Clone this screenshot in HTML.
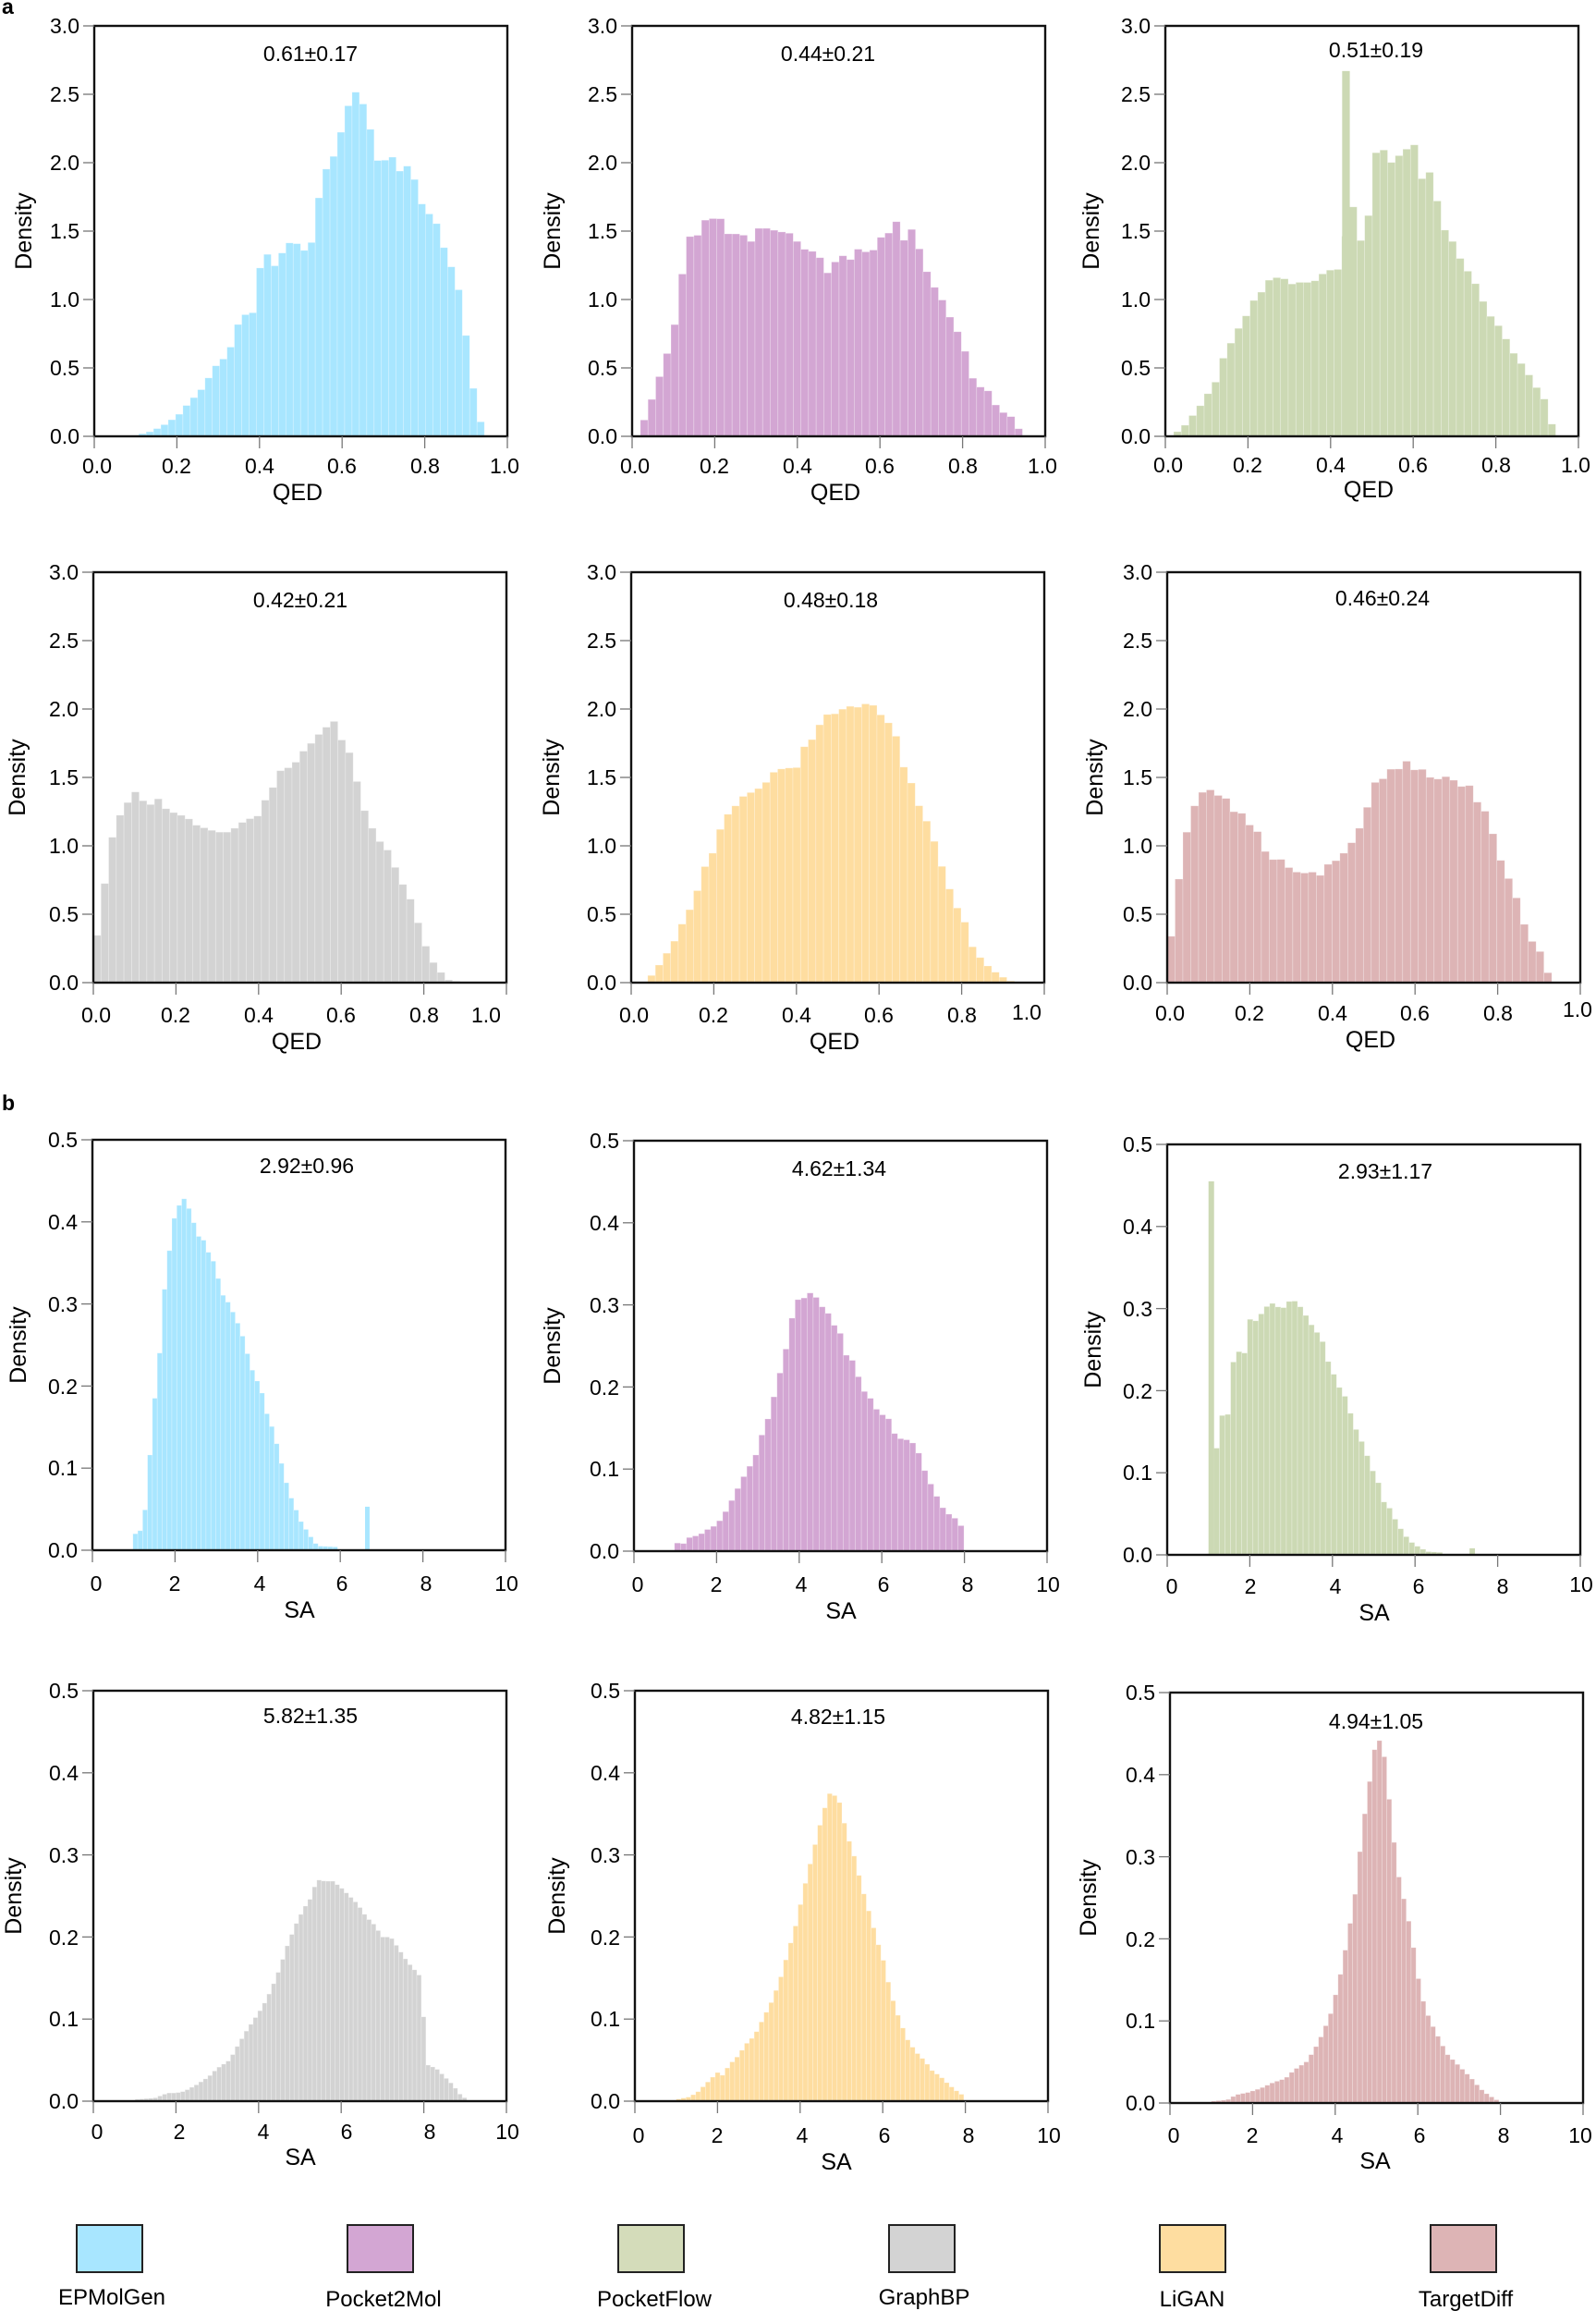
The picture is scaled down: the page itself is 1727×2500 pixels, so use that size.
<!DOCTYPE html>
<html><head><meta charset="utf-8"><style>
html,body{margin:0;padding:0;background:#fff}
svg{display:block}
text{font-family:"Liberation Sans",Arial,sans-serif;fill:#000}
.yl{font-size:23px;text-anchor:end}
.xl{font-size:23px;text-anchor:middle}
.ti{font-size:25px;text-anchor:middle}
.st{font-size:23px;text-anchor:middle}
.lg{font-size:24px;text-anchor:middle}
</style></head><body>
<svg id="s" width="1727" height="2500" viewBox="0 0 1727 2500" xmlns="http://www.w3.org/2000/svg">
<text x="2" y="15" style="font-size:23px;font-weight:bold">a</text>
<text x="2" y="1201" style="font-size:23px;font-weight:bold">b</text>
<g id="bars"></g>

<!-- QED row 1 -->
<g transform="translate(102,28)">
<text class="st" x="234" y="38">0.61±0.17</text>
<text class="yl" x="-16" y="8">3.0</text><text class="yl" x="-16" y="82">2.5</text><text class="yl" x="-16" y="156">2.0</text><text class="yl" x="-16" y="230">1.5</text><text class="yl" x="-16" y="304">1.0</text><text class="yl" x="-16" y="378">0.5</text><text class="yl" x="-16" y="452">0.0</text>
<text class="xl" x="3" y="484">0.0</text><text class="xl" x="89" y="484">0.2</text><text class="xl" x="179" y="484">0.4</text><text class="xl" x="268" y="484">0.6</text><text class="xl" x="358" y="484">0.8</text><text class="xl" x="444" y="484">1.0</text>
<text class="ti" x="220" y="513">QED</text>
<text class="ti" transform="translate(-68,222) rotate(-90)">Density</text>
</g>
<g transform="translate(684,28)">
<text class="st" x="212" y="38">0.44±0.21</text>
<text class="yl" x="-16" y="8">3.0</text><text class="yl" x="-16" y="82">2.5</text><text class="yl" x="-16" y="156">2.0</text><text class="yl" x="-16" y="230">1.5</text><text class="yl" x="-16" y="304">1.0</text><text class="yl" x="-16" y="378">0.5</text><text class="yl" x="-16" y="452">0.0</text>
<text class="xl" x="3" y="484">0.0</text><text class="xl" x="89" y="484">0.2</text><text class="xl" x="179" y="484">0.4</text><text class="xl" x="268" y="484">0.6</text><text class="xl" x="358" y="484">0.8</text><text class="xl" x="444" y="484">1.0</text>
<text class="ti" x="220" y="513">QED</text>
<text class="ti" transform="translate(-78,222) rotate(-90)">Density</text>
</g>
<g transform="translate(1261,28)">
<text class="st" x="228" y="34">0.51±0.19</text>
<text class="yl" x="-16" y="8">3.0</text><text class="yl" x="-16" y="82">2.5</text><text class="yl" x="-16" y="156">2.0</text><text class="yl" x="-16" y="230">1.5</text><text class="yl" x="-16" y="304">1.0</text><text class="yl" x="-16" y="378">0.5</text><text class="yl" x="-16" y="452">0.0</text>
<text class="xl" x="3" y="483">0.0</text><text class="xl" x="89" y="483">0.2</text><text class="xl" x="179" y="483">0.4</text><text class="xl" x="268" y="483">0.6</text><text class="xl" x="358" y="483">0.8</text><text class="xl" x="444" y="483">1.0</text>
<text class="ti" x="220" y="510">QED</text>
<text class="ti" transform="translate(-72,222) rotate(-90)">Density</text>
</g>

<!-- QED row 2 -->
<g transform="translate(101,619)">
<text class="st" x="224" y="38">0.42±0.21</text>
<text class="yl" x="-16" y="8">3.0</text><text class="yl" x="-16" y="82">2.5</text><text class="yl" x="-16" y="156">2.0</text><text class="yl" x="-16" y="230">1.5</text><text class="yl" x="-16" y="304">1.0</text><text class="yl" x="-16" y="378">0.5</text><text class="yl" x="-16" y="452">0.0</text>
<text class="xl" x="3" y="487">0.0</text><text class="xl" x="89" y="487">0.2</text><text class="xl" x="179" y="487">0.4</text><text class="xl" x="268" y="487">0.6</text><text class="xl" x="358" y="487">0.8</text><text class="xl" x="425" y="487">1.0</text>
<text class="ti" x="220" y="516">QED</text>
<text class="ti" transform="translate(-74,222) rotate(-90)">Density</text>
</g>
<g transform="translate(683,619)">
<text class="st" x="216" y="38">0.48±0.18</text>
<text class="yl" x="-16" y="8">3.0</text><text class="yl" x="-16" y="82">2.5</text><text class="yl" x="-16" y="156">2.0</text><text class="yl" x="-16" y="230">1.5</text><text class="yl" x="-16" y="304">1.0</text><text class="yl" x="-16" y="378">0.5</text><text class="yl" x="-16" y="452">0.0</text>
<text class="xl" x="3" y="487">0.0</text><text class="xl" x="89" y="487">0.2</text><text class="xl" x="179" y="487">0.4</text><text class="xl" x="268" y="487">0.6</text><text class="xl" x="358" y="487">0.8</text><text class="xl" x="428" y="484">1.0</text>
<text class="ti" x="220" y="516">QED</text>
<text class="ti" transform="translate(-78,222) rotate(-90)">Density</text>
</g>
<g transform="translate(1263,619)">
<text class="st" x="233" y="36">0.46±0.24</text>
<text class="yl" x="-16" y="8">3.0</text><text class="yl" x="-16" y="82">2.5</text><text class="yl" x="-16" y="156">2.0</text><text class="yl" x="-16" y="230">1.5</text><text class="yl" x="-16" y="304">1.0</text><text class="yl" x="-16" y="378">0.5</text><text class="yl" x="-16" y="452">0.0</text>
<text class="xl" x="3" y="485">0.0</text><text class="xl" x="89" y="485">0.2</text><text class="xl" x="179" y="485">0.4</text><text class="xl" x="268" y="485">0.6</text><text class="xl" x="358" y="485">0.8</text><text class="xl" x="444" y="481">1.0</text>
<text class="ti" x="220" y="514">QED</text>
<text class="ti" transform="translate(-70,222) rotate(-90)">Density</text>
</g>

<!-- SA row 1 -->
<g transform="translate(100,1233)">
<text class="st" x="232" y="36">2.92±0.96</text>
<text class="yl" x="-16" y="8">0.5</text><text class="yl" x="-16" y="97">0.4</text><text class="yl" x="-16" y="186">0.3</text><text class="yl" x="-16" y="275">0.2</text><text class="yl" x="-16" y="363">0.1</text><text class="yl" x="-16" y="452">0.0</text>
<text class="xl" x="4" y="488">0</text><text class="xl" x="89" y="488">2</text><text class="xl" x="181" y="488">4</text><text class="xl" x="270" y="488">6</text><text class="xl" x="361" y="488">8</text><text class="xl" x="448" y="488">10</text>
<text class="ti" x="224" y="517">SA</text>
<text class="ti" transform="translate(-72,222) rotate(-90)">Density</text>
</g>
<g transform="translate(686,1234)">
<text class="st" x="222" y="38">4.62±1.34</text>
<text class="yl" x="-16" y="8">0.5</text><text class="yl" x="-16" y="97">0.4</text><text class="yl" x="-16" y="186">0.3</text><text class="yl" x="-16" y="275">0.2</text><text class="yl" x="-16" y="363">0.1</text><text class="yl" x="-16" y="452">0.0</text>
<text class="xl" x="4" y="488">0</text><text class="xl" x="89" y="488">2</text><text class="xl" x="181" y="488">4</text><text class="xl" x="270" y="488">6</text><text class="xl" x="361" y="488">8</text><text class="xl" x="448" y="488">10</text>
<text class="ti" x="224" y="517">SA</text>
<text class="ti" transform="translate(-80,222) rotate(-90)">Density</text>
</g>
<g transform="translate(1263,1238)">
<text class="st" x="236" y="37">2.93±1.17</text>
<text class="yl" x="-16" y="8">0.5</text><text class="yl" x="-16" y="97">0.4</text><text class="yl" x="-16" y="186">0.3</text><text class="yl" x="-16" y="275">0.2</text><text class="yl" x="-16" y="363">0.1</text><text class="yl" x="-16" y="452">0.0</text>
<text class="xl" x="5" y="486">0</text><text class="xl" x="90" y="486">2</text><text class="xl" x="182" y="486">4</text><text class="xl" x="272" y="486">6</text><text class="xl" x="363" y="486">8</text><text class="xl" x="448" y="484">10</text>
<text class="ti" x="224" y="515">SA</text>
<text class="ti" transform="translate(-72,222) rotate(-90)">Density</text>
</g>

<!-- SA row 2 -->
<g transform="translate(101,1829)">
<text class="st" x="235" y="35">5.82±1.35</text>
<text class="yl" x="-16" y="8">0.5</text><text class="yl" x="-16" y="97">0.4</text><text class="yl" x="-16" y="186">0.3</text><text class="yl" x="-16" y="275">0.2</text><text class="yl" x="-16" y="363">0.1</text><text class="yl" x="-16" y="452">0.0</text>
<text class="xl" x="4" y="485">0</text><text class="xl" x="93" y="485">2</text><text class="xl" x="184" y="485">4</text><text class="xl" x="274" y="485">6</text><text class="xl" x="364" y="485">8</text><text class="xl" x="448" y="485">10</text>
<text class="ti" x="224" y="513">SA</text>
<text class="ti" transform="translate(-78,222) rotate(-90)">Density</text>
</g>
<g transform="translate(687,1829)">
<text class="st" x="220" y="36">4.82±1.15</text>
<text class="yl" x="-16" y="8">0.5</text><text class="yl" x="-16" y="97">0.4</text><text class="yl" x="-16" y="186">0.3</text><text class="yl" x="-16" y="275">0.2</text><text class="yl" x="-16" y="363">0.1</text><text class="yl" x="-16" y="452">0.0</text>
<text class="xl" x="4" y="489">0</text><text class="xl" x="89" y="489">2</text><text class="xl" x="181" y="489">4</text><text class="xl" x="270" y="489">6</text><text class="xl" x="361" y="489">8</text><text class="xl" x="448" y="489">10</text>
<text class="ti" x="218" y="518">SA</text>
<text class="ti" transform="translate(-76,222) rotate(-90)">Density</text>
</g>
<g transform="translate(1266,1831)">
<text class="st" x="223" y="39">4.94±1.05</text>
<text class="yl" x="-16" y="8">0.5</text><text class="yl" x="-16" y="97">0.4</text><text class="yl" x="-16" y="186">0.3</text><text class="yl" x="-16" y="275">0.2</text><text class="yl" x="-16" y="363">0.1</text><text class="yl" x="-16" y="452">0.0</text>
<text class="xl" x="4" y="487">0</text><text class="xl" x="89" y="487">2</text><text class="xl" x="181" y="487">4</text><text class="xl" x="270" y="487">6</text><text class="xl" x="361" y="487">8</text><text class="xl" x="444" y="487">10</text>
<text class="ti" x="222" y="515">SA</text>
<text class="ti" transform="translate(-80,222) rotate(-90)">Density</text>
</g>

<!-- legend -->
<g stroke="#222" stroke-width="2">
<rect x="83" y="2407" width="71" height="51" fill="#a8e6ff"/>
<rect x="376" y="2407" width="71" height="51" fill="#d3a6d3"/>
<rect x="669" y="2407" width="71" height="51" fill="#d4dcba"/>
<rect x="962" y="2407" width="71" height="51" fill="#d3d3d3"/>
<rect x="1255" y="2407" width="71" height="51" fill="#fedda0"/>
<rect x="1548" y="2407" width="71" height="51" fill="#ddb4b5"/>
</g>
<text class="lg" x="121" y="2493">EPMolGen</text>
<text class="lg" x="415" y="2495">Pocket2Mol</text>
<text class="lg" x="708" y="2495">PocketFlow</text>
<text class="lg" x="1000" y="2493">GraphBP</text>
<text class="lg" x="1290" y="2495">LiGAN</text>
<text class="lg" x="1586" y="2495">TargetDiff</text>
</svg>
<script>
var NS="http://www.w3.org/2000/svg";
var W=447,H=444;
function P(s){var a=s.split(",").map(Number),r=[];for(var i=0;i<a.length;i+=2)r.push([a[i],a[i+1]]);return r;}
function interp(pts,x){if(x<pts[0][0]||x>pts[pts.length-1][0])return 0;for(var i=0;i<pts.length-1;i++){if(x>=pts[i][0]&&x<=pts[i+1][0]){var t=(x-pts[i][0])/(pts[i+1][0]-pts[i][0]||1);return pts[i][1]+t*(pts[i+1][1]-pts[i][1]);}}return pts[pts.length-1][1];}
var panels=[
[102,28,1,3,"#a8e6ff",0.09,0.0178,"0.09,0.005,0.11,0.01,0.125,0.03,0.14,0.035,0.16,0.07,0.18,0.10,0.195,0.14,0.215,0.18,0.23,0.26,0.25,0.30,0.27,0.39,0.285,0.47,0.30,0.54,0.32,0.58,0.34,0.72,0.355,0.90,0.375,0.88,0.39,0.92,0.41,1.46,0.43,1.18,0.445,1.32,0.46,1.35,0.48,1.45,0.50,1.37,0.515,1.35,0.535,1.47,0.55,1.93,0.57,1.97,0.59,2.13,0.605,2.32,0.625,2.51,0.64,2.52,0.66,2.35,0.68,2.10,0.695,1.90,0.715,2.16,0.73,1.90,0.75,1.98,0.765,1.97,0.785,1.79,0.80,1.62,0.82,1.63,0.835,1.50,0.855,1.29,0.875,1.18,0.89,0.95,0.91,0.52,0.925,0.19,0.945,0.03",[]],
[684,28,1,3,"#d3a6d3",0.02,0.0185,"0.02,0.05,0.04,0.2,0.06,0.38,0.08,0.56,0.1,0.75,0.12,1.16,0.14,1.46,0.16,1.47,0.17,1.58,0.19,1.58,0.21,1.62,0.23,1.48,0.25,1.48,0.27,1.47,0.29,1.42,0.30,1.52,0.33,1.52,0.35,1.5,0.37,1.49,0.39,1.48,0.4,1.42,0.42,1.36,0.44,1.35,0.46,1.29,0.47,1.18,0.49,1.27,0.51,1.32,0.53,1.29,0.55,1.38,0.57,1.34,0.59,1.37,0.6,1.45,0.62,1.48,0.64,1.57,0.66,1.42,0.68,1.53,0.70,1.32,0.72,1.15,0.74,1.05,0.76,0.95,0.78,0.78,0.8,0.74,0.81,0.55,0.83,0.38,0.85,0.35,0.87,0.32,0.88,0.23,0.9,0.17,0.92,0.14,0.93,0.07,0.95,0.02",[]],
[1261,28,1,3,"#ccd9b4",0.02,0.0185,"0.02,0.02,0.04,0.05,0.06,0.13,0.08,0.2,0.1,0.3,0.12,0.37,0.13,0.52,0.15,0.62,0.17,0.76,0.19,0.84,0.21,0.98,0.23,1.04,0.25,1.14,0.27,1.16,0.28,1.18,0.3,1.11,0.32,1.12,0.34,1.14,0.35,1.1,0.37,1.16,0.39,1.21,0.41,1.22,0.425,1.22,0.45,1.76,0.47,1.41,0.49,1.54,0.5,1.96,0.52,2.18,0.54,1.98,0.56,2.04,0.58,2.08,0.6,2.17,0.62,1.88,0.64,1.93,0.66,1.7,0.68,1.47,0.7,1.41,0.72,1.25,0.74,1.18,0.76,1.06,0.78,0.9,0.8,0.84,0.82,0.74,0.84,0.62,0.86,0.54,0.88,0.45,0.9,0.35,0.92,0.26,0.93,0.12,0.945,0.04",[[0.428,0.0185,2.67]]],
[101,619,1,3,"#d3d3d3",0.0,0.0185,"0.0,0.17,0.02,0.55,0.04,1.0,0.06,1.2,0.08,1.3,0.1,1.4,0.12,1.33,0.14,1.3,0.16,1.35,0.18,1.25,0.2,1.24,0.23,1.2,0.25,1.15,0.28,1.12,0.3,1.1,0.33,1.1,0.36,1.17,0.38,1.2,0.4,1.22,0.42,1.36,0.44,1.45,0.46,1.6,0.48,1.55,0.5,1.67,0.52,1.72,0.54,1.8,0.56,1.85,0.58,1.93,0.6,1.78,0.62,1.68,0.64,1.45,0.66,1.22,0.68,1.1,0.7,1.0,0.72,0.95,0.74,0.75,0.76,0.68,0.78,0.5,0.8,0.3,0.82,0.16,0.84,0.08,0.86,0.02,0.88,0.01",[]],
[683,619,1,3,"#fedda0",0.04,0.0185,"0.04,0.02,0.06,0.09,0.08,0.19,0.1,0.27,0.12,0.41,0.14,0.52,0.16,0.67,0.18,0.86,0.2,0.96,0.21,1.08,0.23,1.22,0.25,1.27,0.26,1.35,0.28,1.37,0.3,1.41,0.32,1.43,0.34,1.53,0.36,1.56,0.38,1.57,0.4,1.56,0.41,1.72,0.43,1.73,0.45,1.85,0.47,1.96,0.49,1.96,0.51,1.99,0.52,2.04,0.54,2.0,0.56,2.03,0.58,2.05,0.6,1.97,0.62,1.91,0.64,1.83,0.65,1.6,0.67,1.55,0.69,1.33,0.71,1.22,0.73,1.07,0.75,0.87,0.77,0.69,0.79,0.54,0.81,0.43,0.82,0.29,0.84,0.2,0.86,0.13,0.88,0.08,0.9,0.04,0.92,0.01",[]],
[1263,619,1,3,"#ddb4b5",0.0,0.019,"0.0,0.13,0.02,0.57,0.04,1.01,0.06,1.25,0.08,1.38,0.1,1.42,0.12,1.37,0.14,1.36,0.16,1.25,0.18,1.24,0.2,1.15,0.22,1.1,0.23,1.0,0.25,0.89,0.27,0.92,0.29,0.85,0.31,0.81,0.33,0.8,0.35,0.81,0.37,0.78,0.38,0.86,0.4,0.87,0.42,0.92,0.44,0.99,0.46,1.09,0.48,1.23,0.5,1.46,0.52,1.48,0.54,1.56,0.56,1.56,0.58,1.62,0.6,1.55,0.62,1.56,0.63,1.51,0.65,1.48,0.67,1.51,0.69,1.49,0.71,1.43,0.73,1.46,0.74,1.33,0.76,1.31,0.78,1.19,0.8,0.95,0.82,0.8,0.84,0.68,0.86,0.46,0.88,0.31,0.9,0.26,0.91,0.13,0.93,0.03",[]],
[100,1233,10,0.5,"#a8e6ff",0.98,0.118,"1.0,0.022,1.1,0.017,1.25,0.035,1.4,0.12,1.5,0.18,1.65,0.25,1.75,0.32,1.85,0.36,2.0,0.41,2.1,0.42,2.2,0.43,2.35,0.415,2.45,0.40,2.55,0.38,2.65,0.39,2.75,0.36,2.85,0.365,3.0,0.34,3.1,0.32,3.2,0.305,3.35,0.30,3.45,0.28,3.55,0.275,3.7,0.25,3.8,0.23,3.9,0.215,4.05,0.20,4.15,0.185,4.25,0.16,4.4,0.145,4.5,0.12,4.65,0.093,4.75,0.07,4.85,0.06,5.0,0.04,5.1,0.03,5.25,0.02,5.35,0.01,5.5,0.005,5.9,0.004",[[6.6,0.11,0.053]]],
[686,1234,10,0.5,"#d3a6d3",0.98,0.146,"1.0,0.012,1.15,0.006,1.3,0.016,1.6,0.02,1.8,0.027,2.0,0.032,2.15,0.042,2.3,0.055,2.5,0.075,2.65,0.09,2.8,0.103,2.95,0.117,3.1,0.142,3.25,0.162,3.4,0.19,3.55,0.22,3.7,0.25,3.85,0.29,4.0,0.31,4.15,0.308,4.25,0.315,4.4,0.31,4.55,0.298,4.7,0.29,4.85,0.275,5.0,0.265,5.15,0.237,5.3,0.232,5.45,0.21,5.6,0.192,5.75,0.185,5.9,0.17,6.05,0.165,6.2,0.16,6.35,0.137,6.5,0.137,6.65,0.135,6.8,0.13,6.95,0.113,7.1,0.088,7.25,0.077,7.4,0.058,7.55,0.048,7.7,0.042,7.85,0.038,8.0,0.022",[]],
[1263,1238,10,0.5,"#ccd9b4",1.13,0.135,"1.1,0.13,1.2,0.13,1.35,0.175,1.5,0.17,1.65,0.265,1.8,0.235,1.9,0.25,2.0,0.287,2.15,0.285,2.3,0.295,2.45,0.305,2.6,0.307,2.75,0.298,2.9,0.305,3.0,0.312,3.15,0.307,3.3,0.297,3.45,0.283,3.6,0.273,3.75,0.262,3.9,0.235,4.05,0.218,4.2,0.2,4.35,0.19,4.5,0.16,4.65,0.145,4.8,0.127,4.95,0.105,5.1,0.09,5.25,0.064,5.4,0.056,5.55,0.04,5.7,0.028,5.85,0.018,6.0,0.012,6.15,0.008,6.3,0.004,6.6,0.003",[[1.0,0.135,0.455],[7.32,0.13,0.008]]],
[101,1829,10,0.5,"#d3d3d3",0.9,0.11,"1.0,0.002,1.5,0.004,1.8,0.01,2.0,0.01,2.2,0.012,2.5,0.02,2.8,0.03,3.0,0.04,3.3,0.05,3.5,0.068,3.7,0.085,3.9,0.1,4.1,0.115,4.3,0.135,4.5,0.16,4.7,0.19,4.9,0.215,5.1,0.235,5.3,0.25,5.4,0.27,5.6,0.268,5.8,0.268,6.0,0.26,6.2,0.25,6.4,0.24,6.6,0.225,6.8,0.215,7.0,0.2,7.2,0.2,7.4,0.185,7.6,0.17,7.95,0.15,8.05,0.045,8.3,0.04,8.5,0.03,8.7,0.02,8.9,0.007,9.05,0.002",[]],
[687,1829,10,0.5,"#fedda0",1.0,0.118,"1.0,0.002,1.3,0.005,1.5,0.01,1.7,0.02,1.9,0.03,2.0,0.035,2.1,0.03,2.3,0.045,2.5,0.055,2.7,0.07,2.9,0.08,3.1,0.1,3.3,0.12,3.5,0.145,3.7,0.18,3.9,0.215,4.1,0.26,4.3,0.3,4.5,0.34,4.7,0.375,4.85,0.372,5.0,0.36,5.1,0.33,5.3,0.3,5.5,0.26,5.7,0.225,5.9,0.19,6.0,0.175,6.2,0.13,6.4,0.1,6.6,0.075,6.8,0.06,7.0,0.05,7.2,0.037,7.4,0.03,7.6,0.02,7.8,0.012,8.0,0.005",[]],
[1266,1831,10,0.5,"#ddb4b5",1.0,0.118,"1.0,0.002,1.4,0.004,1.6,0.01,1.9,0.013,2.2,0.018,2.5,0.025,2.8,0.03,3.0,0.04,3.3,0.05,3.5,0.065,3.7,0.085,3.9,0.11,4.1,0.15,4.3,0.2,4.5,0.26,4.65,0.33,4.8,0.38,4.95,0.43,5.05,0.445,5.2,0.42,5.35,0.35,5.5,0.285,5.7,0.24,5.85,0.205,6.0,0.155,6.15,0.12,6.3,0.1,6.5,0.08,6.7,0.06,6.9,0.05,7.1,0.04,7.3,0.03,7.5,0.018,7.7,0.01,7.9,0.004,8.0,0.002",[]]
];
var g=document.getElementById("bars");
function el(n,a,p){var e=document.createElementNS(NS,n);for(var k in a)e.setAttribute(k,a[k]);(p||g).appendChild(e);return e;}
panels.forEach(function(p){
 var x0=p[0],y0=p[1],xm=p[2],ym=p[3],col=p[4],st=p[5],bw=p[6],pts=P(p[7]),ex=p[8];
 var sx=W/xm,sy=H/ym;
 var grp=el("g",{transform:"translate("+x0+","+y0+")"});
 var x=st;
 while(x<pts[pts.length-1][0]+bw*0.5){
  var h=interp(pts,x+bw/2);
  if(h>0){el("rect",{x:(x*sx).toFixed(2),y:(H-h*sy).toFixed(2),width:(bw*sx).toFixed(2),height:(h*sy).toFixed(2),fill:col,stroke:"#fff","stroke-opacity":"0.35","stroke-width":"0.7"},grp);}
  x+=bw;
 }
 ex.forEach(function(e){el("rect",{x:(e[0]*sx).toFixed(2),y:(H-e[2]*sy).toFixed(2),width:(e[1]*sx).toFixed(2),height:(e[2]*sy).toFixed(2),fill:col},grp);});
 el("rect",{x:0,y:0,width:W,height:H,fill:"none",stroke:"#111","stroke-width":"2.4"},grp);
 var ny=(ym==3)?6:5;
 for(var i=0;i<=ny;i++){var yy=H-H*i/ny;el("line",{x1:-12,x2:0,y1:yy,y2:yy,stroke:"#777","stroke-width":"1.3"},grp);}
 for(var j=0;j<=5;j++){var xx=W*j/5;el("line",{x1:xx,x2:xx,y1:H,y2:H+13,stroke:"#777","stroke-width":"1.3"},grp);}
});
</script>
</body></html>
